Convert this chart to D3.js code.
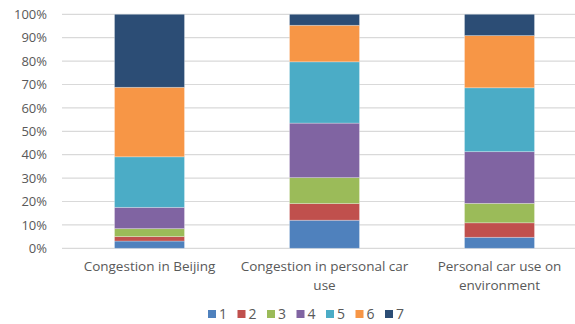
<!DOCTYPE html>
<html>
<head>
<meta charset="utf-8">
<script src="https://cdn.jsdelivr.net/npm/d3@7/dist/d3.min.js"></script>
<style>
  html, body { margin: 0; padding: 0; background: #fff; }
  svg { display: block; }
  text { font-family: "Open Sans", "Noto Sans", sans-serif; fill: #595959; }
</style>
</head>
<body>
<svg id="chart" width="575" height="324"></svg>
<script>
// Categories (x axis)
const categories = ["Congestion in Beijing", "Congestion in personal car use", "Personal car use on environment"];
// Response levels 1..7 (legend / stack order, bottom to top)
const levels = ["1", "2", "3", "4", "5", "6", "7"];
// Share of responses per level, in %, one array per category
const beijing     = [3.1, 1.9, 3.4, 9.1, 21.6, 29.7, 31.2];
const personalCar = [12.0, 7.1, 11.1, 23.3, 26.2, 15.6, 4.7];
const environment = [4.7, 6.2, 8.3, 22.1, 27.3, 22.3, 9.1];
// Y axis ticks
const yTicks = [0, 10, 20, 30, 40, 50, 60, 70, 80, 90, 100];
const colors = ["#4f81bd", "#c0504d", "#9bbb59", "#8064a2", "#4bacc6", "#f79646", "#2c4d75"];

const seriesByCategory = [beijing, personalCar, environment];
const rows = categories.map((c, i) => {
  const row = { category: c };
  levels.forEach((l, j) => { row[l] = seriesByCategory[i][j]; });
  return row;
});

const svg = d3.select("#chart");
const plotLeft = 62, plotRight = 587, plotTop = 14.3, plotBottom = 248.3;

const x = d3.scaleBand().domain(categories).range([plotLeft, plotRight])
  .paddingInner(0.6).paddingOuter(0.3);
const y = d3.scaleLinear().domain([0, 100]).range([plotBottom, plotTop]);
const color = d3.scaleOrdinal().domain(levels).range(colors);

// Gridlines
svg.append("g").selectAll("line").data(yTicks).join("line")
  .attr("x1", plotLeft).attr("x2", 575)
  .attr("y1", d => y(d)).attr("y2", d => y(d))
  .attr("stroke", "#d9d9d9").attr("stroke-width", 1.2);

// Y axis labels
const yAxis = d3.axisLeft(y).tickValues(yTicks).tickFormat(d => d + "%").tickSize(0).tickPadding(0);
const gy = svg.append("g").attr("transform", "translate(47,0)").call(yAxis);
gy.select(".domain").remove();
gy.selectAll("text").attr("font-size", 13).attr("fill", "#595959")
  .style("font-family", '"Open Sans", sans-serif');

// Stacked bars
const stack = d3.stack().keys(levels)(rows);
svg.append("g").selectAll("g").data(stack).join("g")
  .attr("fill", d => color(d.key))
  .selectAll("rect").data(d => d).join("rect")
  .attr("x", d => x(d.data.category))
  .attr("width", x.bandwidth())
  .attr("y", d => y(d[1]))
  .attr("height", d => y(d[0]) - y(d[1]))
  .attr("stroke", "#ffffff").attr("stroke-opacity", 0.35).attr("stroke-width", 0.8);

// X axis category labels, wrapped
const xAxis = d3.axisBottom(x).tickSize(0).tickPadding(0);
const gx = svg.append("g").attr("transform", `translate(0,${plotBottom + 13.5})`).call(xAxis);
gx.select(".domain").remove();
gx.selectAll("text").attr("font-size", 13.5).attr("fill", "#595959")
  .style("font-family", '"Open Sans", sans-serif')
  .each(function () { wrap(d3.select(this), 172); });

function wrap(text, width) {
  const words = text.text().split(/\s+/);
  text.text(null);
  let line = [];
  let tspan = text.append("tspan").attr("x", 0).attr("dy", "0.71em");
  words.forEach(w => {
    line.push(w);
    tspan.text(line.join(" "));
    if (tspan.node().getComputedTextLength() > width && line.length > 1) {
      line.pop();
      tspan.text(line.join(" "));
      line = [w];
      tspan = text.append("tspan").attr("x", 0).attr("dy", "18.5px").text(w);
    }
  });
}

// Legend
const legend = svg.append("g").attr("transform", "translate(208,314)");
const item = legend.selectAll("g").data(levels).join("g")
  .attr("transform", (d, i) => `translate(${i * 29.5},0)`);
item.append("rect").attr("x", 0).attr("y", -4).attr("width", 8).attr("height", 8)
  .attr("fill", d => color(d));
item.append("text").attr("x", 11).attr("y", 0).attr("dy", "0.36em")
  .attr("font-size", 14).text(d => d);
</script>
</body>
</html>
